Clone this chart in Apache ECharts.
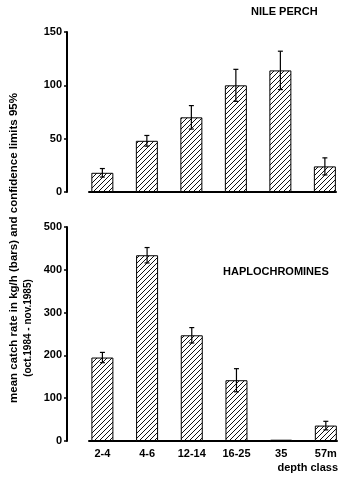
<!DOCTYPE html>
<html>
<head>
<meta charset="utf-8">
<script src="https://cdn.jsdelivr.net/npm/echarts@6/dist/echarts.min.js"></script>
<style>
  html, body { margin: 0; padding: 0; background: #fff; }
  #chart { width: 350px; height: 478px; }
</style>
</head>
<body>
<div id="chart"></div>
<script>
// Depth classes (m) shared by both panels
const depthClasses = ['2-4', '4-6', '12-14', '16-25', '35', '57m'];

// Nile perch: mean catch rate (kg/h) and 95% confidence half-width
const nilePerchMean = [18, 48, 70, 100, 114, 24];
const nilePerchCI = [4, 5, 11, 15, 18, 8];

// Haplochromines: mean catch rate (kg/h) and 95% confidence half-width
const haploMean = [195, 434, 247, 142, 3, 36];
const haploCI = [12, 18, 18, 27, 0, 10];

// Value-axis ranges
const nileAxis = { min: 0, max: 150, interval: 50 };
const haploAxis = { min: 0, max: 500, interval: 100 };

const FONT = '"Liberation Sans", Arial, sans-serif';

// Diagonal hatch tile for the bar fill
function hatchTile() {
  const s = 5;
  const c = document.createElement('canvas');
  c.width = s; c.height = s;
  const g = c.getContext('2d');
  g.fillStyle = '#fff';
  g.fillRect(0, 0, s, s);
  g.strokeStyle = '#111';
  g.lineWidth = 1;
  g.beginPath();
  g.moveTo(-1, s + 1); g.lineTo(s + 1, -1);
  g.moveTo(-1, 1); g.lineTo(1, -1);
  g.moveTo(s - 1, s + 1); g.lineTo(s + 1, s - 1);
  g.stroke();
  return c;
}
const hatch = { image: hatchTile(), repeat: 'repeat' };

const catIdx = depthClasses.map((_, i) => i);

function xAxisFor(gridIndex, showLabels) {
  return {
    type: 'value', gridIndex,
    min: -0.3, max: 5.25,
    splitLine: { show: false },
    axisTick: { show: false },
    axisLine: { show: true, onZero: false, lineStyle: { color: '#000', width: 2 } },
    axisLabel: {
      show: showLabels,
      customValues: catIdx,
      formatter: v => depthClasses[v] ?? '',
      color: '#000', fontWeight: 'bold', fontSize: 11, fontFamily: FONT, margin: 7
    }
  };
}

function yAxisFor(gridIndex, range) {
  return {
    type: 'value', gridIndex,
    min: range.min, max: range.max, interval: range.interval,
    offset: 22,
    splitLine: { show: false },
    axisLine: { show: true, onZero: false, lineStyle: { color: '#000', width: 2 } },
    axisTick: { show: true, length: 3, lineStyle: { color: '#000', width: 1.5 } },
    axisLabel: { color: '#000', fontWeight: 'bold', fontSize: 11, fontFamily: FONT, margin: 5 }
  };
}

function barSeries(idx, values) {
  return {
    type: 'bar', xAxisIndex: idx, yAxisIndex: idx,
    data: values.map((v, i) => [i, v]),
    barWidth: 22,
    itemStyle: { color: hatch, borderColor: '#000', borderWidth: 1 },
    silent: true, z: 2
  };
}

function errorSeries(idx, values, ci) {
  return {
    type: 'custom', xAxisIndex: idx, yAxisIndex: idx,
    data: values.map((v, i) => [i, v - ci[i], v + ci[i]]),
    encode: { x: 0, y: [1, 2] },
    silent: true, z: 5,
    renderItem(params, api) {
      const x = api.value(0);
      const lo = api.coord([x, api.value(1)]);
      const hi = api.coord([x, api.value(2)]);
      if (Math.abs(hi[1] - lo[1]) < 1) return { type: 'group', children: [] };
      const w = 2.5;
      const st = { stroke: '#000', lineWidth: 1.2 };
      return {
        type: 'group',
        children: [
          { type: 'line', shape: { x1: hi[0], y1: hi[1], x2: lo[0], y2: lo[1] }, style: st },
          { type: 'line', shape: { x1: hi[0] - w, y1: hi[1], x2: hi[0] + w, y2: hi[1] }, style: st },
          { type: 'line', shape: { x1: lo[0] - w, y1: lo[1], x2: lo[0] + w, y2: lo[1] }, style: st }
        ]
      };
    }
  };
}

const chart = echarts.init(document.getElementById('chart'), null, { renderer: 'canvas' });

const titleStyle = { color: '#000', fontSize: 11, fontWeight: 'bold', fontFamily: FONT };
const textStyle = { fill: '#000', fontWeight: 'bold', fontFamily: FONT };

chart.setOption({
  animation: false,
  backgroundColor: '#fff',
  title: [
    { text: 'NILE PERCH', left: 251, top: 6, padding: 0, textStyle: titleStyle },
    { text: 'HAPLOCHROMINES', left: 223, top: 266, padding: 0, textStyle: titleStyle }
  ],
  grid: [
    { left: 89, right: 14, top: 32, height: 160 },
    { left: 89, right: 13, top: 227, height: 214 }
  ],
  xAxis: [xAxisFor(0, false), xAxisFor(1, true)],
  yAxis: [yAxisFor(0, nileAxis), yAxisFor(1, haploAxis)],
  series: [
    barSeries(0, nilePerchMean),
    errorSeries(0, nilePerchMean, nilePerchCI),
    barSeries(1, haploMean),
    errorSeries(1, haploMean, haploCI)
  ],
  graphic: [
    {
      type: 'text', x: 14, y: 248, rotation: Math.PI / 2,
      style: Object.assign({ text: 'mean catch rate in kg/h (bars) and confidence limits 95%', fontSize: 11.5, align: 'center', verticalAlign: 'middle' }, textStyle)
    },
    {
      type: 'text', x: 28, y: 328, rotation: Math.PI / 2,
      style: Object.assign({ text: '(oct.1984 - nov.1985)', fontSize: 10, align: 'center', verticalAlign: 'middle' }, textStyle)
    },
    {
      type: 'text', x: 338, y: 468,
      style: Object.assign({ text: 'depth class', fontSize: 11, align: 'right', verticalAlign: 'middle' }, textStyle)
    }
  ]
});
</script>
</body>
</html>
